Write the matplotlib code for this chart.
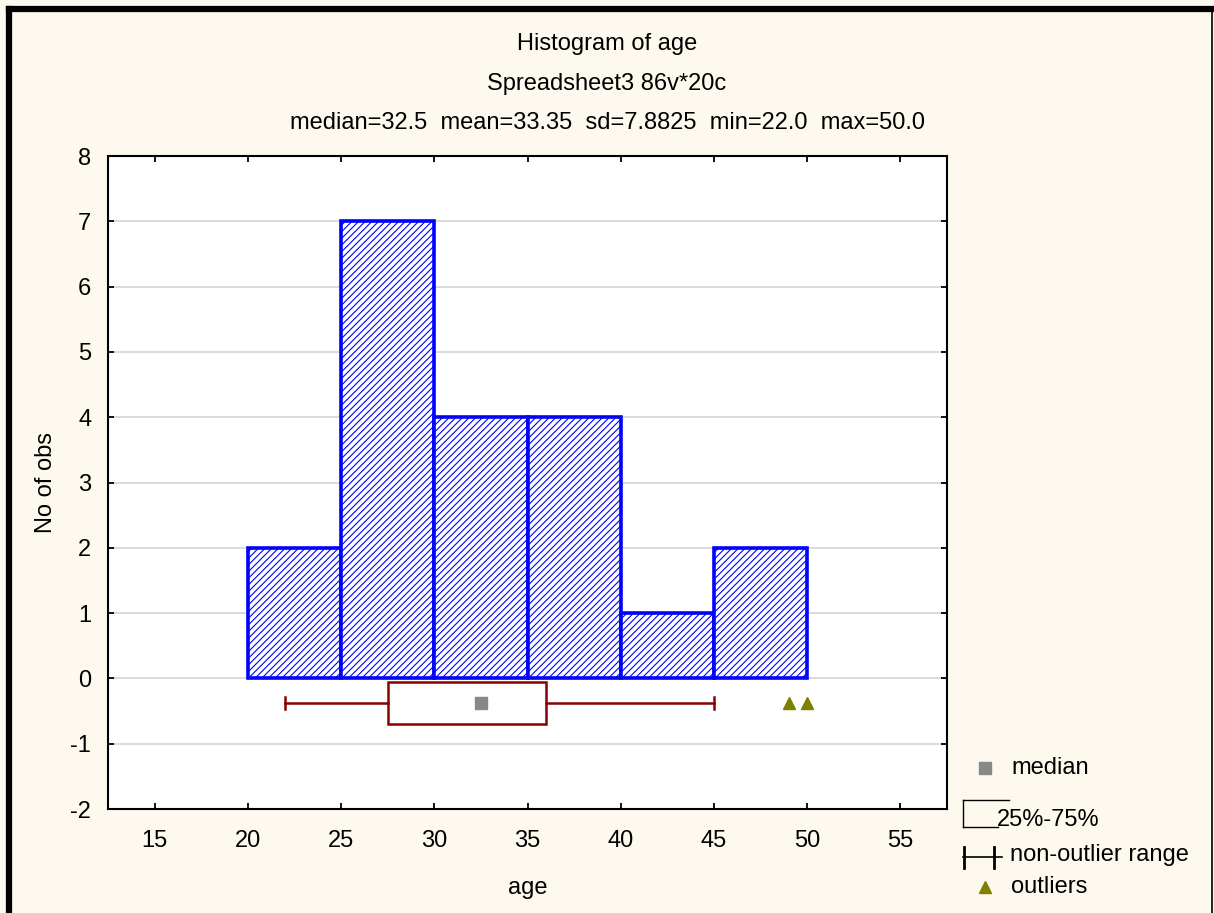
import matplotlib
matplotlib.use("Agg")
import matplotlib.pyplot as plt
from matplotlib.patches import Rectangle
from matplotlib.lines import Line2D
import numpy as np

plt.rcParams['font.family'] = ['Liberation Sans', 'DejaVu Sans']
plt.rcParams['hatch.linewidth'] = 0.8
plt.rcParams['axes.unicode_minus'] = False

# Data
bin_edges = [20, 25, 30, 35, 40, 45, 50]
counts = [2, 7, 4, 4, 1, 2]
q1, median, q3 = 27.5, 32.5, 36.0
whisk_lo, whisk_hi = 22.0, 45.0
outliers = [49.0, 50.0]
box_y = -0.38
box_half = 0.32
x_ticks = [15, 20, 25, 30, 35, 40, 45, 50, 55]
y_ticks = [-2, -1, 0, 1, 2, 3, 4, 5, 6, 7, 8]

title1 = "Histogram of age"
title2 = "Spreadsheet3 86v*20c"
title3 = "median=32.5  mean=33.35  sd=7.8825  min=22.0  max=50.0"

BG = '#FEF9EE'
W, H = 1214, 913
fig = plt.figure(figsize=(W/100, H/100), dpi=100, facecolor=BG)
ax = fig.add_axes([108/W, 1-809/H, (947-108)/W, (809-156)/H])
ax.set_facecolor('white')

ax.set_xlim(12.5, 57.5)
ax.set_ylim(-2, 8)
ax.set_xticks(x_ticks)
ax.set_yticks(y_ticks)
ax.yaxis.grid(True, color='#d4d4d4', linewidth=1.2)
ax.set_axisbelow(True)
ax.tick_params(direction='in', length=4, width=1.3, top=True, right=True,
               labelsize=17, colors='black')
ax.tick_params(axis='x', pad=15)
ax.tick_params(axis='y', pad=12)
for s in ax.spines.values():
    s.set_linewidth(1.5)

widths = np.diff(bin_edges)
ax.bar(bin_edges[:-1], counts, width=widths, align='edge', facecolor='white',
       edgecolor='#0000FF', linewidth=2.6, hatch='/////', zorder=3)

# Box plot
ax.add_patch(Rectangle((q1, box_y - box_half), q3 - q1, 2*box_half,
                       facecolor='white', edgecolor='#8B0000', linewidth=1.8, zorder=4))
ax.plot([whisk_lo, q1], [box_y, box_y], color='#8B0000', lw=1.8, zorder=4)
ax.plot([q3, whisk_hi], [box_y, box_y], color='#8B0000', lw=1.8, zorder=4)
for wx in (whisk_lo, whisk_hi):
    ax.plot([wx, wx], [box_y - 0.09, box_y + 0.09], color='#8B0000', lw=1.8, zorder=4)
ax.plot([median], [box_y], marker='s', markersize=9, color='#888888',
        linestyle='none', zorder=5)
ax.plot(outliers, [box_y]*len(outliers), marker='^', markersize=9, color='#808000',
        linestyle='none', zorder=5)

ax.set_xlabel('age', fontsize=17, labelpad=18)
ax.set_ylabel('No of obs', fontsize=17, labelpad=10)

cx = 0.5
fig.text(cx, 1-44/H, title1, ha='center', va='center', fontsize=17)
fig.text(cx, 1-84/H, title2, ha='center', va='center', fontsize=17)
fig.text(cx, 1-123/H, title3, ha='center', va='center', fontsize=17)

# Legend (drawn manually in figure pixels)
def fx(x): return x / W
def fy(y): return 1 - y / H

fig.add_artist(Line2D([fx(985)], [fy(768)], marker='s', markersize=9, color='#888888', linestyle='none'))
fig.text(fx(1011), fy(768), 'median', va='center', ha='left', fontsize=17)

fig.add_artist(Line2D([fx(963), fx(1009)], [fy(800), fy(800)], color='black', lw=1))
fig.add_artist(Line2D([fx(963), fx(963)], [fy(800), fy(827)], color='black', lw=1))
fig.add_artist(Line2D([fx(963), fx(998)], [fy(827), fy(827)], color='black', lw=1))
fig.text(fx(997), fy(820), '25%-75%', va='center', ha='left', fontsize=17)

fig.add_artist(Line2D([fx(963), fx(1002)], [fy(857), fy(857)], color='black', lw=1.2))
fig.add_artist(Line2D([fx(964), fx(964)], [fy(847), fy(868)], color='black', lw=2))
fig.add_artist(Line2D([fx(994), fx(994)], [fy(847), fy(868)], color='black', lw=2))
fig.text(fx(1010), fy(855), 'non-outlier range', va='center', ha='left', fontsize=17)

fig.add_artist(Line2D([fx(985)], [fy(887)], marker='^', markersize=9, color='#808000', linestyle='none'))
fig.text(fx(1011), fy(887), 'outliers', va='center', ha='left', fontsize=17)

# Outer frame
fig.add_artist(Line2D([fx(9), fx(1214)], [fy(9), fy(9)], color='black', lw=4.5))
fig.add_artist(Line2D([fx(9), fx(9)], [fy(9), fy(913)], color='black', lw=4.5))
fig.add_artist(Line2D([fx(1212), fx(1212)], [fy(9), fy(913)], color='black', lw=1.2))

fig.savefig('out.png', dpi=100, facecolor=BG)
